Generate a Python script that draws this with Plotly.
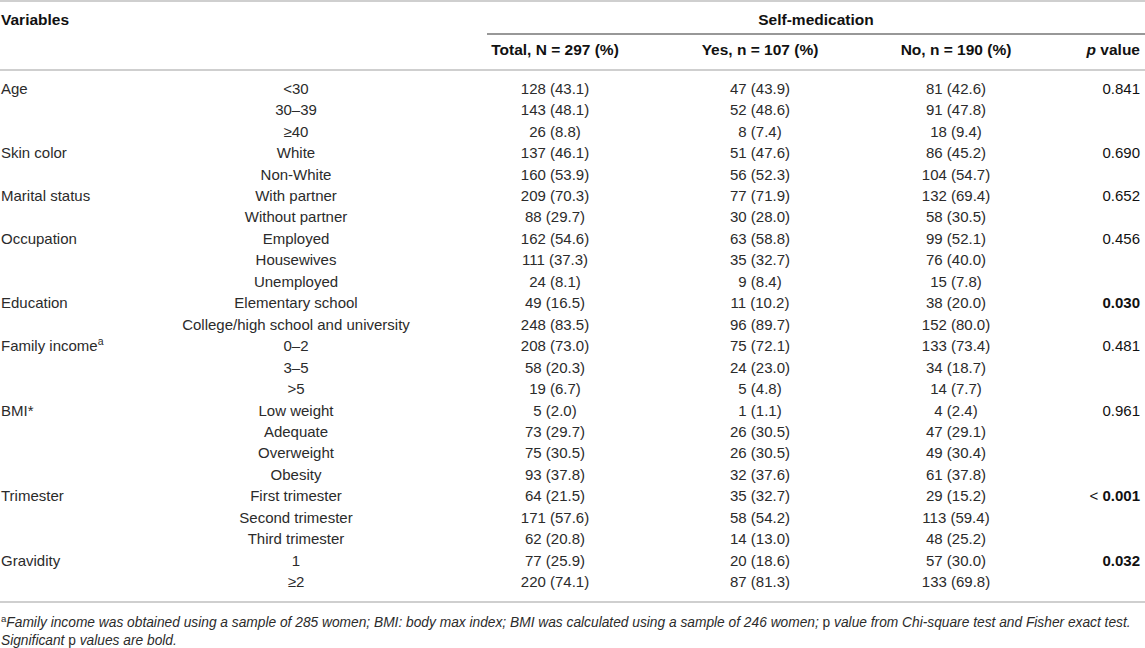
import plotly.graph_objects as go

# ---------------- data ----------------
variable = ["Age", "", "", "Skin color", "", "Marital status", "", "Occupation", "", "",
            "Education", "", "Family income<sup>a</sup>", "", "", "BMI*", "", "", "",
            "Trimester", "", "", "Gravidity", ""]
category = ["<30", "30–39", "≥40", "White", "Non-White", "With partner", "Without partner",
            "Employed", "Housewives", "Unemployed", "Elementary school",
            "College/high school and university", "0–2", "3–5", ">5", "Low weight", "Adequate",
            "Overweight", "Obesity", "First trimester", "Second trimester", "Third trimester",
            "1", "≥2"]
total_n = [128, 143, 26, 137, 160, 209, 88, 162, 111, 24, 49, 248, 208, 58, 19, 5, 73, 75, 93,
           64, 171, 62, 77, 220]
total_pct = [43.1, 48.1, 8.8, 46.1, 53.9, 70.3, 29.7, 54.6, 37.3, 8.1, 16.5, 83.5, 73.0, 20.3,
             6.7, 2.0, 29.7, 30.5, 37.8, 21.5, 57.6, 20.8, 25.9, 74.1]
yes_n = [47, 52, 8, 51, 56, 77, 30, 63, 35, 9, 11, 96, 75, 24, 5, 1, 26, 26, 32, 35, 58, 14, 20, 87]
yes_pct = [43.9, 48.6, 7.4, 47.6, 52.3, 71.9, 28.0, 58.8, 32.7, 8.4, 10.2, 89.7, 72.1, 23.0, 4.8,
           1.1, 30.5, 30.5, 37.6, 32.7, 54.2, 13.0, 18.6, 81.3]
no_n = [81, 91, 18, 86, 104, 132, 58, 99, 76, 15, 38, 152, 133, 34, 14, 4, 47, 49, 61, 29, 113,
        48, 57, 133]
no_pct = [42.6, 47.8, 9.4, 45.2, 54.7, 69.4, 30.5, 52.1, 40.0, 7.8, 20.0, 80.0, 73.4, 18.7, 7.7,
          2.4, 29.1, 30.4, 37.8, 15.2, 59.4, 25.2, 30.0, 69.8]
p_value = ["0.841", "", "", "0.690", "", "0.652", "", "0.456", "", "", "0.030", "", "0.481", "",
           "", "0.961", "", "", "", "< 0.001", "", "", "0.032", ""]
p_significant = [False, False, False, False, False, False, False, False, False, False, True,
                 False, False, False, False, False, False, False, False, True, False, False,
                 True, False]
header_main = ["Variables", "Self-medication"]
header_cols = ["Total, N = 297 (%)", "Yes, n = 107 (%)", "No, n = 190 (%)", "<i>p</i> value"]
footnotes = [
    "<sup>a</sup><i>Family income was obtained using a sample of 285 women; BMI: body max index; "
    "BMI was calculated using a sample of 246 women; </i>p<i> value from Chi-square test and "
    "Fisher exact test.</i>",
    "<i>Significant </i>p<i> values are bold.</i>",
]

# ---------------- layout constants ----------------
W, H = 1145, 648
ROW_PX = 21.45
TOP_ROW_PX = 90
FONT = "Liberation Sans, Arial, Helvetica, sans-serif"
TXT = "#2b2b2b"

rows = list(range(len(category)))


def fmt(n, p):
    return [f"{a} ({b:.1f})" for a, b in zip(n, p)]


def pfmt(v, s):
    if not v or not s:
        return v
    if v.startswith("<"):
        return "< <b>" + v[1:].strip() + "</b>"
    return "<b>" + v + "</b>"


def px_to_row(py):
    return (py - TOP_ROW_PX) / ROW_PX


fig = go.Figure()

body_font = dict(family=FONT, size=15, color=TXT)


def add_col(xpos, texts, pos, ys=None, font=None):
    ys = rows if ys is None else ys
    pairs = [(y, t) for y, t in zip(ys, texts) if t]
    fig.add_trace(go.Scatter(
        x=[xpos] * len(pairs), y=[p[0] for p in pairs], text=[p[1] for p in pairs],
        mode="text", textposition=pos, textfont=font or body_font, hoverinfo="skip",
        showlegend=False, cliponaxis=False))


# body columns
add_col(1, variable, "middle right")
add_col(296, category, "middle center")
add_col(555, fmt(total_n, total_pct), "middle center")
add_col(760, fmt(yes_n, yes_pct), "middle center")
add_col(956, fmt(no_n, no_pct), "middle center")
add_col(1140, [pfmt(v, s) for v, s in zip(p_value, p_significant)], "middle left",
        font=dict(family=FONT, size=15, color="#111"))

# headers
hfont = dict(family=FONT, size=15.5, color="#111")
y_h1 = px_to_row(21)
y_h2 = px_to_row(51)
add_col(1, ["<b>" + header_main[0] + "</b>"], "middle right", ys=[y_h1], font=hfont)
add_col(816, ["<b>" + header_main[1] + "</b>"], "middle center", ys=[y_h1], font=hfont)
for xc, t in zip([555, 760, 956], header_cols[:3]):
    add_col(xc, ["<b>" + t + "</b>"], "middle center", ys=[y_h2], font=hfont)
add_col(1140, ["<b>" + header_cols[3] + "</b>"], "middle left", ys=[y_h2], font=hfont)

# footnotes
ffont = dict(family=FONT, size=13.75, color=TXT)
add_col(1, footnotes, "middle right",
        ys=[px_to_row(624), px_to_row(642)], font=ffont)

# rules
shapes = [
    dict(type="line", x0=0, x1=W, y0=px_to_row(1), y1=px_to_row(1),
         line=dict(color="#cfcfcf", width=2)),
    dict(type="line", x0=487, x1=W, y0=px_to_row(34), y1=px_to_row(34),
         line=dict(color="#333333", width=1.2)),
    dict(type="line", x0=0, x1=W, y0=px_to_row(70), y1=px_to_row(70),
         line=dict(color="#cfcfcf", width=2)),
    dict(type="line", x0=0, x1=W, y0=px_to_row(602), y1=px_to_row(602),
         line=dict(color="#cfcfcf", width=2)),
]

fig.update_layout(
    width=W, height=H, margin=dict(l=0, r=0, t=0, b=0),
    paper_bgcolor="white", plot_bgcolor="white",
    xaxis=dict(range=[0, W], visible=False, fixedrange=True),
    yaxis=dict(range=[px_to_row(H), px_to_row(0)], visible=False, fixedrange=True),
    shapes=shapes, showlegend=False,
)

fig.write_html("out.html", config={"displayModeBar": False},
               post_script="document.body.style.margin='0';")
